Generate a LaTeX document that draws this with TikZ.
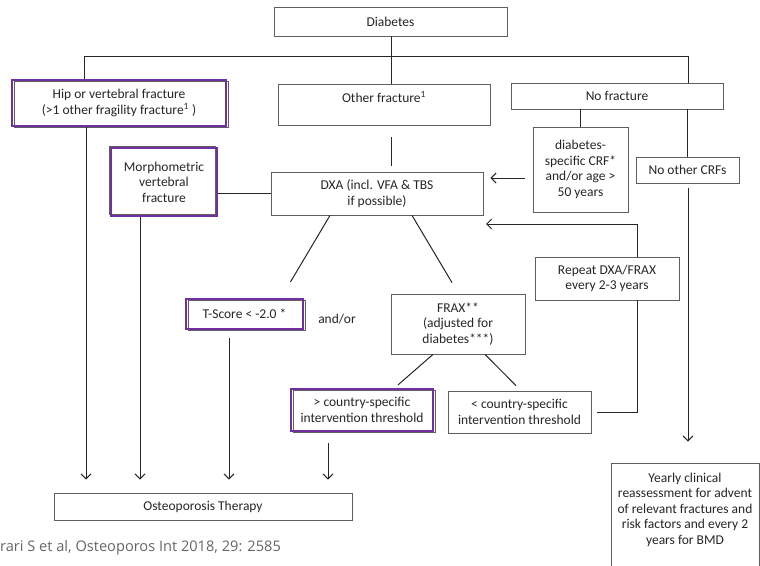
\documentclass[tikz,border=0pt]{standalone}
\usepackage{fontspec}
\setmainfont{Carlito}
\newfontfamily\citefont{Open Sans}
\usetikzlibrary{arrows.meta}
\definecolor{boxgray}{RGB}{95,95,95}
\definecolor{lilac}{RGB}{112,48,160}
\tikzset{
        box/.style={draw=boxgray, line width=0.8pt, inner sep=0pt, align=center, text=black!85, font=\fontsize{13.5}{15.5}\selectfont},
        pbox/.style={box, draw=lilac, line width=2.2pt, preaction={draw=boxgray, line width=0.6pt, transform canvas={shift={#1}}}},
        pbox/.default={(2pt,-1.5pt)},
        link/.style={draw=black!85, line width=1pt},
        arr/.style={link, -{Straight Barb[length=5pt,width=10pt]}},
        cite/.style={anchor=west, inner sep=0pt, text=black!60, font=\citefont\fontsize{14.6}{17}\selectfont}
          }
\begin{document}
\begin{tikzpicture}[x=1pt, y=-1pt]
        \useasboundingbox (0,0) rectangle (760,565);
        \clip (0,0) rectangle (760,565);
        \fill[white] (0,0) rectangle (760,565);
        \node[box, minimum width=233pt, minimum height=29pt] (diab) at (390.5,21.5) {Diabetes};
        \node[pbox, minimum width=214pt, minimum height=46pt] (hip) at (119,103) {Hip or vertebral fracture\\(>1 other fragility fracture\textsuperscript{1} )};
        \node[box, minimum width=212pt, minimum height=41pt] (other) at (384,104.5) {Other fracture\textsuperscript{1}\\\mbox{}};
        \node[box, minimum width=212pt, minimum height=26pt] (nofrac) at (617,96) {No fracture};
        \node[pbox={(-2pt,1.5pt)}, minimum width=106pt, minimum height=68pt] (morph) at (164,182) {Morphometric\\vertebral\\fracture};
        \node[box, minimum width=212pt, minimum height=43pt] (dxa) at (377,193.5) {DXA (incl. VFA \& TBS\\if possible)};
        \node[box, minimum width=95pt, minimum height=85pt] (crf) at (580.5,169.5) {diabetes-\\specific CRF*\\and/or age >\\50 years};
        \node[box, minimum width=103pt, minimum height=26pt] (nocrf) at (687.5,170) {No other CRFs};
        \node[box, minimum width=144pt, minimum height=43pt] (repeat) at (607,278.5) {Repeat DXA/FRAX\\every 2-3 years};
        \node[pbox, minimum width=117pt, minimum height=30pt] (tscore) at (244.5,314) {T-Score < -2.0 *};
        \node[inner sep=0pt, text=black!85, font=\fontsize{13.5}{15.5}\selectfont] (andor) at (337,319) {and/or};
        \node[box, minimum width=134pt, minimum height=60pt] (frax) at (458,324) {FRAX**\\(adjusted for\\diabetes***)};
        \node[pbox, minimum width=142pt, minimum height=42pt] (above) at (362,410) {> country-specific\\intervention threshold};
        \node[box, minimum width=143pt, minimum height=42pt] (below) at (519.5,412) {< country-specific\\intervention threshold};
        \node[box, minimum width=298pt, minimum height=27pt] (therapy) at (203,506.5) {Osteoporosis Therapy};
        \node[box, minimum width=148pt, minimum height=122pt] (yearly) at (685,524) {Yearly clinical\\reassessment for advent\\of relevant fractures and\\risk factors and every 2\\years for BMD\\\mbox{}\\\mbox{}};
        \node[cite] (source) at (0,548) {rari S et al, Osteoporos Int 2018, 29: 2585};
        \coordinate (split) at (391,56);
        \coordinate (c1) at (86,0);
        \coordinate (c2) at (140,0);
        \coordinate (c3) at (229,0);
        \coordinate (c4) at (328,0);
        \coordinate (tl) at (84,56);
        \coordinate (tr) at (688,56);
        \coordinate (loop) at (637,0);
        \coordinate (back) at (486,224);
        \coordinate (crfout) at ([xshift=-8pt,yshift=-8.5pt]crf.west);
        \draw[link] (diab.south -| split) -- (split);
        \draw[link] (tl |- hip.north) -- (tl) -- (tr) -- (tr |- nofrac.north);
        \draw[link] (split) -- (other.north -| split);
        \draw[link, shorten <=12pt, shorten >=6pt] (other.south -| split) -- (dxa.north -| split);
        \draw[link] (dxa.west) -- (dxa.west -| morph.east);
        \draw[link] (nofrac.south -| crf.north) -- (crf.north);
        \draw[link] (nofrac.south -| nocrf.north) -- (nocrf.north);
        \draw[arr, shorten >=7pt] (crfout) -- (crfout -| dxa.east);
        \draw[link] ([xshift=-47pt]dxa.south) -- ([xshift=46pt,yshift=16pt]tscore.north);
        \draw[link] ([xshift=35pt]dxa.south) -- ([xshift=-6pt,yshift=11pt]frax.north);
        \draw[link] ([xshift=-25pt]frax.south) -- ([xshift=36pt,yshift=3pt]above.north);
        \draw[link] ([xshift=27pt]frax.south) -- ([xshift=-3.5pt,yshift=5pt]below.north);
        \draw[link] ([xshift=6pt]below.east) -- (below.east -| loop) -- (repeat.south -| loop);
        \draw[arr] (repeat.north -| loop) |- (back);
        \draw[arr, shorten >=13pt] (hip.south -| c1) -- (therapy.north -| c1);
        \draw[arr, shorten >=13pt] (morph.south -| c2) -- (therapy.north -| c2);
        \draw[arr, shorten <=8pt, shorten >=13pt] (tscore.south -| c3) -- (therapy.north -| c3);
        \draw[arr, shorten <=11pt, shorten >=13pt] (above.south -| c4) -- (therapy.north -| c4);
        \draw[arr, shorten <=5pt, shorten >=21pt] (nocrf.south -| tr) -- (yearly.north -| tr);
      \end{tikzpicture}
\end{document}
